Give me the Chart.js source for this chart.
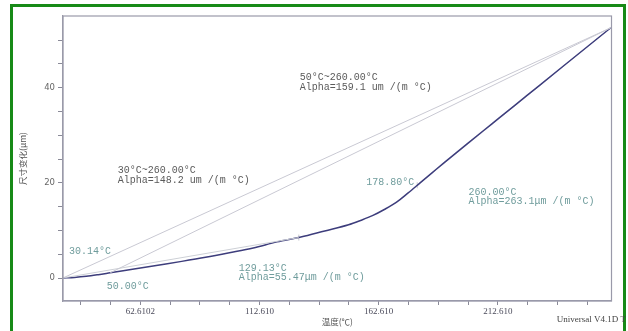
<!DOCTYPE html>
<html>
<head>
<meta charset="utf-8">
<script src="https://cdn.jsdelivr.net/npm/chart.js@4.4.1/dist/chart.umd.min.js"></script>
<style>
  html, body { margin: 0; padding: 0; background: #ffffff; }
  #frame { position: absolute; left: 10px; top: 4px; width: 610px; height: 340px; border: 3px solid #178a17; box-sizing: content-box; }
  #wrap { position: absolute; left: 0; top: 0; width: 628px; height: 331px; }
</style>
</head>
<body>
<div id="frame"></div>
<div id="wrap"><canvas id="tmaChart" width="628" height="331"></canvas></div>
<script>
// ===== TMA curve: dimension change vs temperature =====
const tempC = [30.14, 35, 40, 45, 50, 60, 70, 80, 90, 100, 110, 120, 130, 140, 150, 155, 160, 165, 170, 175, 180, 185, 190, 200, 210, 220, 230, 240, 250, 260];
const dimUm = [0, 0.12, 0.35, 0.7, 1.1, 1.9, 2.7, 3.5, 4.35, 5.3, 6.3, 7.6, 8.6, 9.9, 11.2, 12.1, 13.1, 14.4, 15.9, 17.9, 20.0, 22.1, 24.2, 28.3, 32.35, 36.4, 40.45, 44.5, 48.55, 52.6];

// secant / tangent construction lines (x pair, y pair)
const secantA_x = [30.14, 260];    const secantA_y = [0, 52.6];
const secantB_x = [50, 260];       const secantB_y = [1.1, 52.6];
const secantC_x = [30.14, 129.13]; const secantC_y = [0, 8.5];
const secantD_x = [178.8, 260];    const secantD_y = [19.5, 52.6];
const markTemp = [129.13, 178.8];
const markDim = [8.5, 19.5];

// axis ticks
const xTickValues = [37.6102, 50.1102, 62.6102, 75.1102, 87.6102, 100.1102, 112.6102, 125.1102, 137.6102, 150.1102, 162.6102, 175.1102, 187.6102, 200.1102, 212.6102, 225.1102, 237.6102, 250.1102];
const xTickLabels = ['', '', '62.6102', '', '', '', '112.610', '', '', '', '162.610', '', '', '', '212.610', '', '', ''];
const yTickValues = [0, 5, 10, 15, 20, 25, 30, 35, 40, 45, 50];
const yTickLabels = ['0', '', '', '', '20', '', '', '', '40', '', ''];

// annotation texts, anchored in data units
const noteTexts = ['50°C~260.00°C', 'Alpha=159.1 um /(m °C)', '30°C~260.00°C', 'Alpha=148.2 um /(m °C)',
  '30.14°C', '50.00°C', '129.13°C', 'Alpha=55.47μm /(m °C)', '178.80°C', '260.00°C', 'Alpha=263.1μm /(m °C)'];
const noteX = [129.5, 129.5, 53.2, 53.2, 32.7, 48.6, 103.9, 103.9, 157.4, 200.3, 200.3];
const noteY = [42.25, 40.15, 22.7, 20.6, 5.5, -1.83, 2.1, 0.2, 20.2, 18.1, 16.2];
const noteDark = [true, true, true, true, false, false, false, false, false, false, false];

const toXY = (xs, ys) => xs.map((x, i) => ({ x: x, y: ys[i] }));

const lineStyle = c => ({ borderColor: c, borderWidth: 1, pointRadius: 0, fill: false, tension: 0 });

const framePlugin = {
  id: 'frame',
  afterDraw(chart) {
    const { ctx, chartArea: a, scales } = chart;
    ctx.save();
    ctx.strokeStyle = '#9a9aaa';
    ctx.lineWidth = 1.2;
    ctx.strokeRect(a.left, a.top, a.right - a.left, a.bottom - a.top);

    ctx.font = '10px "Liberation Mono", monospace';
    ctx.textBaseline = 'middle';
    ctx.textAlign = 'left';
    noteTexts.forEach((t, i) => {
      ctx.fillStyle = noteDark[i] ? '#5a5a5a' : '#6f9c9c';
      ctx.fillText(t, scales.x.getPixelForValue(noteX[i]), scales.y.getPixelForValue(noteY[i]));
    });

    ctx.font = '9px "Liberation Serif", serif';
    ctx.fillStyle = '#444';
    ctx.textAlign = 'right';
    ctx.fillText('Universal V4.1D T', chart.width - 2, chart.height - 11);
    ctx.restore();
  }
};

new Chart(document.getElementById('tmaChart'), {
  type: 'line',
  data: {
    datasets: [
      { data: toXY(secantA_x, secantA_y), ...lineStyle('#c9c9d3') },
      { data: toXY(secantB_x, secantB_y), ...lineStyle('#c9c9d3') },
      { data: toXY(secantC_x, secantC_y), ...lineStyle('#cdd0d6') },
      { data: toXY(tempC, dimUm), borderColor: '#3d3d7c', borderWidth: 1.5, pointRadius: 0, fill: false, tension: 0.3, cubicInterpolationMode: 'monotone' },
      { data: toXY(secantD_x, secantD_y), ...lineStyle('rgba(200,200,215,0.6)') },
      { data: toXY(markTemp, markDim), showLine: false, pointStyle: 'line', rotation: 90, pointRadius: 3, borderColor: '#c8c8d0', borderWidth: 1 }
    ]
  },
  options: {
    responsive: false,
    animation: false,
    layout: { padding: { top: 16, right: 16.5, left: 0, bottom: 0 } },
    plugins: { legend: { display: false }, tooltip: { enabled: false } },
    scales: {
      x: {
        type: 'linear',
        min: 30.2, max: 260.3,
        afterBuildTicks: s => { s.ticks = xTickValues.map(v => ({ value: v })); },
        afterFit: s => { s.height = 30; },
        grid: { drawOnChartArea: false, drawTicks: true, tickLength: 4, color: '#8a8a98' },
        border: { color: '#9a9aaa', width: 1.2 },
        ticks: {
          autoSkip: false, maxRotation: 0, padding: 1,
          color: '#4a4a5a', font: { family: '"Liberation Serif", serif', size: 9 },
          callback: (v, i) => xTickLabels[i]
        },
        title: { display: true, text: '温度(℃)', color: '#555', padding: { top: 0, bottom: 4 }, font: { family: '"Noto Sans CJK SC", sans-serif', size: 8.5 } }
      },
      y: {
        type: 'linear',
        min: -4.83, max: 55.07,
        afterBuildTicks: s => { s.ticks = yTickValues.map(v => ({ value: v })); },
        afterFit: s => { s.width = 63; },
        grid: { drawOnChartArea: false, drawTicks: true, tickLength: 5, color: '#8a8a98' },
        border: { color: '#9a9aaa', width: 1.2 },
        ticks: {
          autoSkip: false, padding: 3,
          color: '#666', font: { family: '"DejaVu Sans", sans-serif', size: 8.5 },
          callback: (v, i) => yTickLabels[i]
        },
        title: { display: true, text: '尺寸变化(μm)', color: '#555', padding: { top: 18, bottom: 0 }, font: { family: '"Noto Sans CJK SC", sans-serif', size: 8.5 } }
      }
    }
  },
  plugins: [framePlugin]
});
</script>
</body>
</html>
